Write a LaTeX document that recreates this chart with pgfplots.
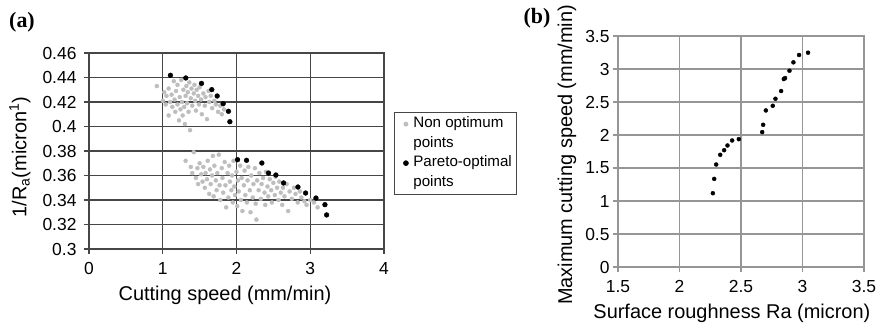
\documentclass[border=0pt]{standalone}
\usepackage{fontspec}
\setmainfont{Liberation Sans}
\newfontfamily\serifb{Liberation Serif}
\usepackage{pgfplots}
\pgfplotsset{compat=1.18}
\definecolor{nonopt}{RGB}{190,190,190}
\definecolor{gridd}{RGB}{70,70,70}
\definecolor{gridl}{RGB}{150,150,150}
\newcommand{\legfont}{\fontsize{15.2}{18}\selectfont}
\begin{document}
\begin{tikzpicture}[x=1bp,y=1bp]
\useasboundingbox (0,0) rectangle (880,331);
\node[font=\serifb\bfseries\fontsize{22}{22}\selectfont] at (22,309) {(a)};
\node[font=\serifb\bfseries\fontsize{22}{22}\selectfont] at (537,313) {(b)};
\begin{axis}[
  at={(89bp,82bp)}, anchor=south west, scale only axis,
  width=295bp, height=196bp,
  xmin=0, xmax=4, ymin=0.3, ymax=0.46,
  xtick={0,1,2,3,4}, xticklabels={0,1,2,3,4},
  ytick={0.3,0.32,0.34,0.36,0.38,0.4,0.42,0.44,0.46},
  yticklabels={0.3,0.32,0.34,0.36,0.38,0.4,0.42,0.44,0.46},
  /pgf/number format/assume math mode=true,
  tick label style={font=\fontsize{17.5}{17.5}\selectfont},
  xticklabel style={yshift=-5bp},
  yticklabel style={xshift=-4bp},
  label style={font=\fontsize{20}{20}\selectfont},
  grid=major, major grid style={gridd, line width=1.1pt},
  axis line style={gridd, line width=1.1pt},
  tick style={gridd, line width=1.1pt},
  tick align=outside, tick pos=left, major tick length=5bp,
  xlabel={Cutting speed (mm/min)},
  ylabel={1/R\textsubscript{a}(micron\textsuperscript{1})},
  xlabel style={at={(axis description cs:0.461,-0.235)}, anchor=center},
  ylabel style={at={(axis description cs:-0.234,0.469)}, anchor=center, rotate=0},
  legend style={at={(axis description cs:1.034,0.699)}, anchor=north west,
    draw=gridd, line width=0.8pt, inner sep=3bp, row sep=2bp,
    nodes={font=\legfont, inner sep=2bp, text height=10.5bp, text depth=3bp},
    /tikz/every odd column/.append style={column sep=3bp}},
  legend cell align=left,
  clip=false,
]
\addplot[only marks, mark=*, mark size=2bp, color=nonopt] table {
x y
0.92 0.433
1.00 0.421
1.02 0.428
1.04 0.418
1.05 0.425
1.08 0.431
1.08 0.409
1.10 0.420
1.12 0.426
1.13 0.416
1.15 0.437
1.16 0.422
1.17 0.412
1.18 0.429
1.20 0.418
1.20 0.434
1.22 0.405
1.23 0.424
1.24 0.414
1.25 0.438
1.26 0.420
1.27 0.409
1.28 0.430
1.29 0.416
1.30 0.402
1.31 0.425
1.32 0.433
1.33 0.419
1.34 0.428
1.35 0.412
1.36 0.436
1.37 0.397
1.38 0.423
1.39 0.431
1.40 0.417
1.42 0.427
1.43 0.434
1.44 0.421
1.45 0.413
1.46 0.430
1.48 0.425
1.49 0.418
1.50 0.432
1.52 0.422
1.53 0.410
1.55 0.427
1.57 0.417
1.58 0.424
1.60 0.406
1.62 0.429
1.63 0.420
1.65 0.425
1.67 0.415
1.70 0.421
1.72 0.418
1.75 0.412
1.78 0.417
1.80 0.410
1.83 0.414
1.31 0.372
1.38 0.367
1.40 0.362
1.42 0.379
1.45 0.358
1.47 0.366
1.48 0.353
1.50 0.370
1.52 0.361
1.54 0.355
1.55 0.367
1.57 0.350
1.58 0.362
1.60 0.357
1.61 0.372
1.63 0.345
1.64 0.365
1.65 0.353
1.67 0.360
1.68 0.376
1.69 0.343
1.70 0.368
1.72 0.356
1.73 0.348
1.74 0.362
1.76 0.377
1.77 0.352
1.78 0.340
1.80 0.366
1.81 0.358
1.82 0.346
1.84 0.371
1.85 0.352
1.86 0.334
1.88 0.362
1.89 0.342
1.90 0.368
1.91 0.355
1.93 0.348
1.94 0.360
1.95 0.338
1.96 0.372
1.97 0.351
1.98 0.344
2.00 0.363
2.01 0.335
2.02 0.356
2.03 0.347
2.05 0.368
2.06 0.340
2.07 0.358
2.08 0.331
2.10 0.352
2.11 0.364
2.12 0.344
2.14 0.338
2.15 0.356
2.16 0.367
2.18 0.348
2.19 0.330
2.20 0.360
2.22 0.342
2.23 0.353
2.25 0.366
2.26 0.337
2.27 0.324
2.28 0.356
2.30 0.348
2.31 0.362
2.33 0.341
2.34 0.353
2.36 0.358
2.38 0.346
2.39 0.336
2.40 0.363
2.42 0.351
2.43 0.343
2.45 0.357
2.47 0.348
2.48 0.338
2.50 0.354
2.52 0.344
2.53 0.359
2.55 0.350
2.57 0.340
2.58 0.355
2.60 0.346
2.62 0.336
2.63 0.350
2.65 0.343
2.68 0.353
2.70 0.331
2.72 0.347
2.75 0.341
2.78 0.350
2.80 0.345
2.83 0.338
2.86 0.347
2.88 0.342
2.92 0.339
2.95 0.336
3.00 0.340
3.05 0.338
3.10 0.334
};
\addlegendentry{Non optimum}
\addlegendimage{empty legend}
\addlegendentry{points}
\addplot[only marks, mark=*, mark size=2.4bp, color=black] table {
x y
1.104 0.4418
1.312 0.4396
1.525 0.4352
1.665 0.4301
1.738 0.4249
1.819 0.4186
1.891 0.4124
1.910 0.4039
2.014 0.3729
2.136 0.3724
2.344 0.3702
2.434 0.3620
2.534 0.3604
2.638 0.3539
2.833 0.3506
2.937 0.3457
3.077 0.3416
3.199 0.3362
3.222 0.3278
};
\addlegendentry{Pareto-optimal}
\addlegendimage{empty legend}
\addlegendentry{points}
\end{axis}
\begin{axis}[
  at={(618bp,64bp)}, anchor=south west, scale only axis,
  width=246bp, height=231bp,
  xmin=1.5, xmax=3.5, ymin=0, ymax=3.5,
  xtick={1.5,2,2.5,3,3.5}, xticklabels={1.5,2,2.5,3,3.5},
  ytick={0,0.5,1,1.5,2,2.5,3,3.5},
  yticklabels={0,0.5,1,1.5,2,2.5,3,3.5},
  /pgf/number format/assume math mode=true,
  tick label style={font=\fontsize{17.5}{17.5}\selectfont},
  xticklabel style={yshift=-5bp},
  label style={font=\fontsize{20}{20}\selectfont},
  grid=major, major grid style={gridl, line width=1.1pt},
  axis line style={gridl, line width=1.1pt},
  tick style={gridl, line width=1.1pt},
  tick align=outside, tick pos=left, major tick length=5bp,
  xlabel={Surface roughness Ra (micron)},
  ylabel={Maximum cutting speed (mm/min)},
  xlabel style={at={(axis description cs:0.463,-0.199)}, anchor=center},
  ylabel style={at={(axis description cs:-0.207,0.485)}, anchor=center, rotate=0},
  clip=false,
]
\addplot[only marks, mark=*, mark size=2bp, color=black] table {
x y
2.271 1.118
2.282 1.335
2.298 1.553
2.331 1.700
2.363 1.770
2.390 1.841
2.428 1.917
2.482 1.937
2.672 2.044
2.680 2.155
2.702 2.372
2.758 2.443
2.780 2.549
2.826 2.666
2.848 2.848
2.858 2.863
2.894 2.974
2.926 3.101
2.972 3.212
3.045 3.247
};
\end{axis}
\end{tikzpicture}
\end{document}
